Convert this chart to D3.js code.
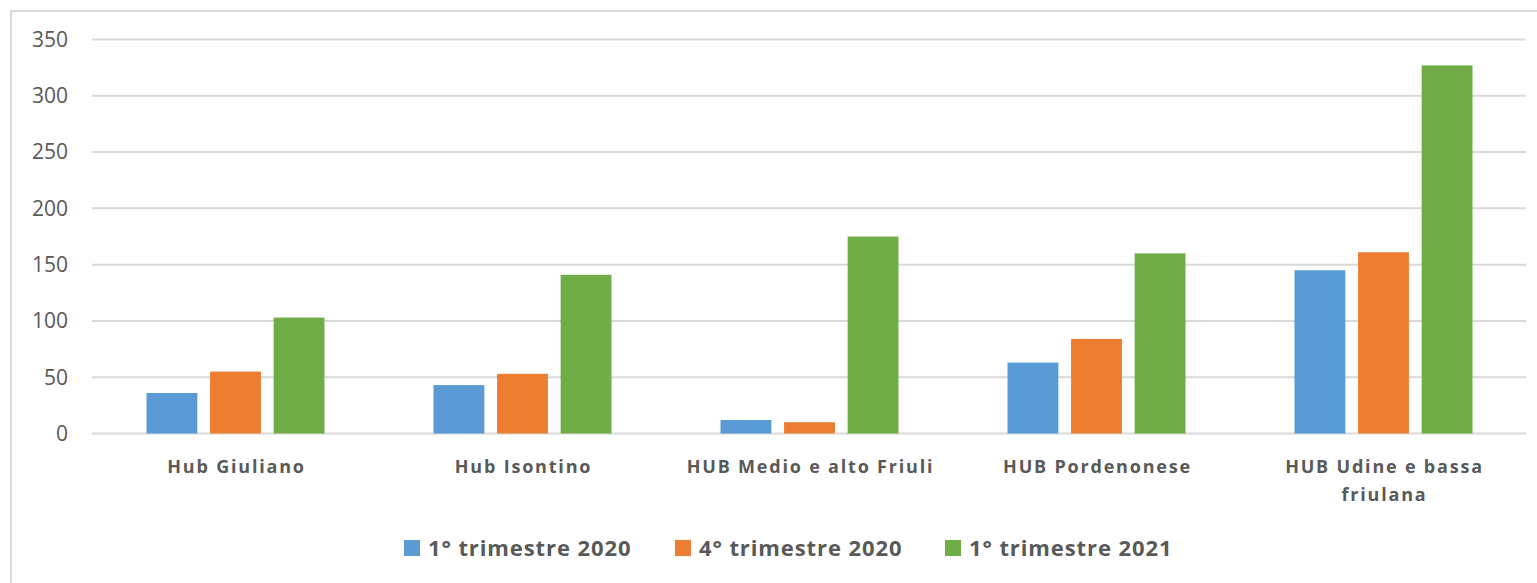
<!DOCTYPE html>
<html>
<head>
<meta charset="utf-8">
<script src="https://cdn.jsdelivr.net/npm/d3@7"></script>
<style>
  body { margin: 0; background: #fff; }
  svg { display: block; font-family: "Open Sans", "Liberation Sans", sans-serif; }
</style>
</head>
<body>
<div id="chart"></div>
<script>
const categories = [
  ["Hub Giuliano"],
  ["Hub Isontino"],
  ["HUB Medio e alto Friuli"],
  ["HUB Pordenonese"],
  ["HUB Udine e bassa", "friulana"]
];
const seriesNames = ["1° trimestre 2020", "4° trimestre 2020", "1° trimestre 2021"];
const trim1_2020 = [36, 43, 12, 63, 145];
const trim4_2020 = [55, 53, 10, 84, 161];
const trim1_2021 = [103, 141, 175, 160, 327];
const yTicks = [0, 50, 100, 150, 200, 250, 300, 350];
const colors = ["#5b9bd5", "#ed7d31", "#70ad47"];

const width = 1537, height = 583;
const series = [trim1_2020, trim4_2020, trim1_2021];

const svg = d3.select("#chart").append("svg")
  .attr("width", width)
  .attr("height", height);

// chart frame (only left/top edges visible in the crop)
svg.append("path")
  .attr("d", `M11,${height} V11 H${width}`)
  .attr("fill", "none")
  .attr("stroke", "#d9d9d9")
  .attr("stroke-width", 2);

const x = d3.scaleBand()
  .domain(d3.range(categories.length))
  .range([92, 1527]);

const xInner = d3.scaleBand()
  .domain(d3.range(series.length))
  .range([54.5, x.bandwidth() - 54.5])
  .paddingInner(0.2);

const y = d3.scaleLinear()
  .domain([0, 350])
  .range([433.5, 39.5]);

// gridlines
svg.append("g")
  .selectAll("line")
  .data(yTicks)
  .join("line")
  .attr("x1", 92)
  .attr("x2", 1526)
  .attr("y1", d => y(d))
  .attr("y2", d => y(d))
  .attr("stroke", "#d9d9d9")
  .attr("stroke-width", 2);

// y labels
svg.append("g")
  .selectAll("text")
  .data(yTicks)
  .join("text")
  .attr("x", 68)
  .attr("y", d => y(d))
  .attr("dy", "0.35em")
  .attr("text-anchor", "end")
  .attr("font-size", 21)
  .attr("fill", "#595959")
  .text(d => d);

// bars
const groups = svg.append("g")
  .selectAll("g")
  .data(categories)
  .join("g")
  .attr("transform", (d, i) => `translate(${x(i)},0)`);

groups.selectAll("rect")
  .data((d, i) => series.map((s, j) => ({ j, v: s[i] })))
  .join("rect")
  .attr("x", d => xInner(d.j))
  .attr("width", xInner.bandwidth())
  .attr("y", d => y(d.v))
  .attr("height", d => y(0) - y(d.v))
  .attr("fill", d => colors[d.j]);

// x labels
groups.append("text")
  .attr("x", x.bandwidth() / 2)
  .attr("y", 473)
  .attr("text-anchor", "middle")
  .attr("font-size", 18)
  .attr("font-weight", "bold")
  .attr("letter-spacing", 1.8)
  .attr("fill", "#595959")
  .selectAll("tspan")
  .data(d => d)
  .join("tspan")
  .attr("x", x.bandwidth() / 2 + 1)
  .attr("dy", (d, i) => i ? 28 : 0)
  .text(d => d);

// legend
const legendX = [404, 675, 945];
const legend = svg.append("g")
  .selectAll("g")
  .data(seriesNames)
  .join("g")
  .attr("transform", (d, i) => `translate(${legendX[i]},548)`);

legend.append("rect")
  .attr("x", 0)
  .attr("y", -8)
  .attr("width", 16)
  .attr("height", 16)
  .attr("fill", (d, i) => colors[i]);

legend.append("text")
  .attr("x", 24)
  .attr("dy", "0.35em")
  .attr("font-size", 22)
  .attr("font-weight", "bold")
  .attr("letter-spacing", 0.9)
  .attr("fill", "#595959")
  .text(d => d);
</script>
</body>
</html>
